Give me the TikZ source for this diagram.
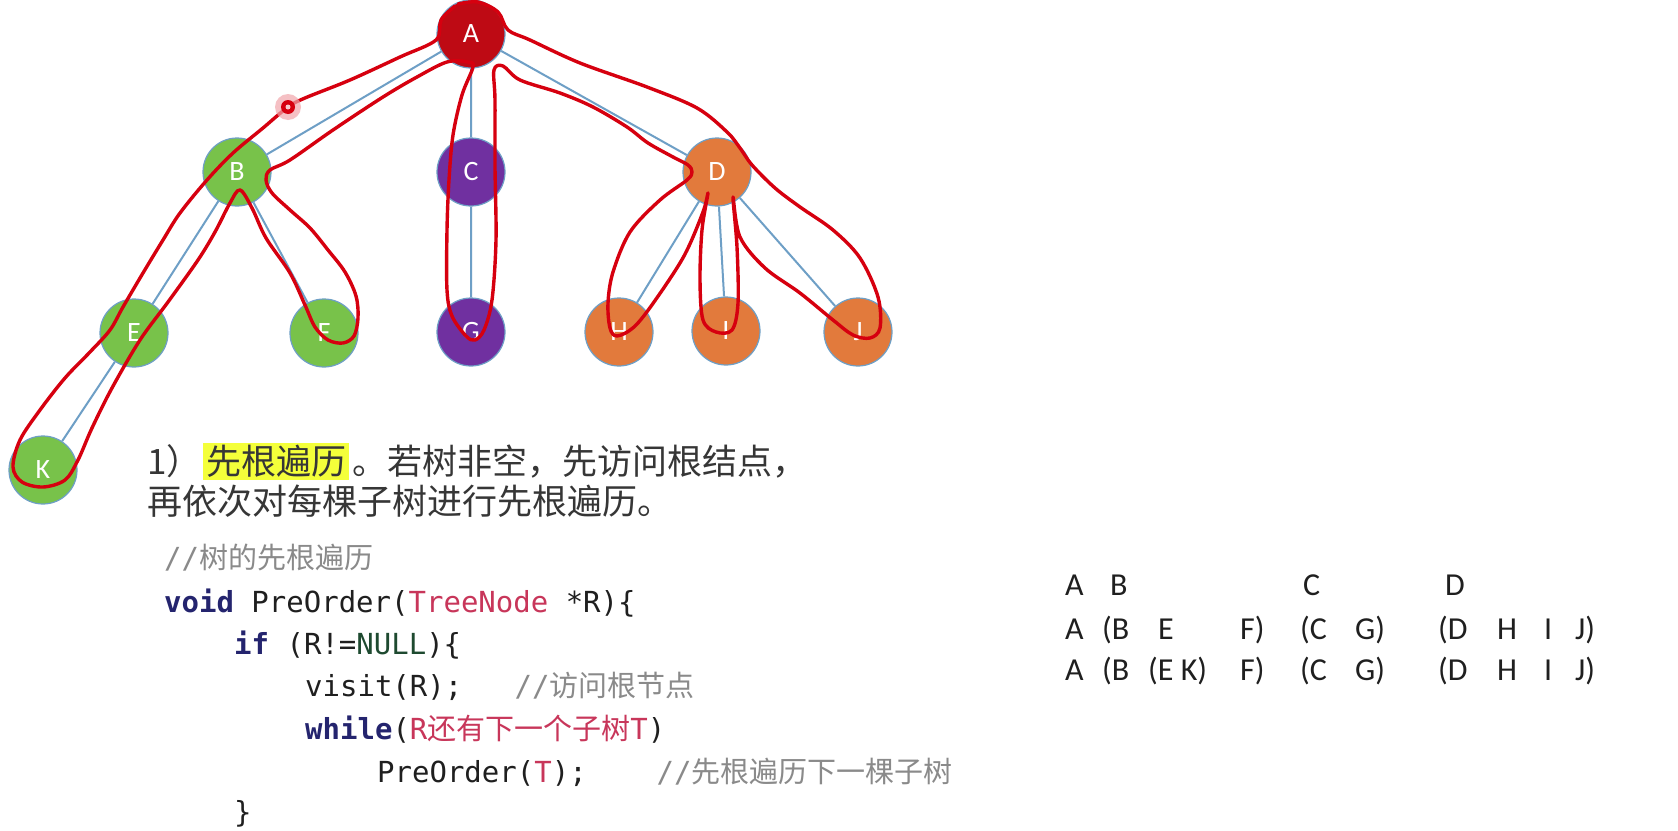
\documentclass[tikz,border=0pt]{standalone}
\usepackage{fontspec}
\setmainfont{Carlito}
\newfontfamily\cjk{Noto Sans CJK SC}
\newfontfamily\codef{DejaVu Sans Mono}
\newcommand\setfs[1]{\fontsize{#1}{#1}\selectfont}
\definecolor{nred}{HTML}{BE0A14}
\definecolor{ngreen}{HTML}{78C24A}
\definecolor{npurple}{HTML}{7030A0}
\definecolor{norange}{HTML}{E27A3C}
\definecolor{edgeblue}{HTML}{6E9FC6}
\definecolor{pen}{HTML}{D6000F}
\definecolor{txt}{HTML}{363636}
\definecolor{kw}{HTML}{24246E}
\definecolor{typ}{HTML}{C8365A}
\definecolor{cmt}{HTML}{8A8A8A}
\definecolor{nullc}{HTML}{1E4A30}
\definecolor{hly}{HTML}{F4FF3A}
\begin{document}
\begin{tikzpicture}[x=1pt,y=-1pt,
  tn/.style={circle, minimum size=68pt, inner sep=0pt, draw=edgeblue, line width=1.2pt, text=white, font=\setfs{28}},
  tedge/.style={draw=edgeblue, line width=2pt},
  penline/.style={draw=pen, line width=3.4pt, line cap=round, line join=round},
  para/.style={anchor=base west, inner sep=0pt, text=txt, font=\cjk\setfs{35}},
  hl/.style={para, fill=hly, inner xsep=3pt, text height=31pt, text depth=6pt},
  codeline/.style={anchor=base west, inner sep=0pt, text=black!88, font=\codef\setfs{29}},
  seq/.style={anchor=base west, inner sep=0pt, text=black!88, font=\setfs{32}}
]
\useasboundingbox (0,0) rectangle (1678,830);
\fill[white] (0,0) rectangle (1678,830);

% tree node positions (invisible anchors first, for edges)
\node[tn, draw=none] (A) at (471,34)  {};
\node[tn, draw=none] (B) at (237,172) {};
\node[tn, draw=none] (C) at (471,172) {};
\node[tn, draw=none] (D) at (717,172) {};
\node[tn, draw=none] (E) at (134,333) {};
\node[tn, draw=none] (F) at (324,333) {};
\node[tn, draw=none] (G) at (471,332) {};
\node[tn, draw=none] (H) at (619,332) {};
\node[tn, draw=none] (I) at (726,331) {};
\node[tn, draw=none] (J) at (858,332) {};
\node[tn, draw=none] (K) at (43,470)  {};

\path[tedge] (A) -- (B) (A) -- (C) (A) -- (D)
  (B) -- (E) (B) -- (F) (E) -- (K) (C) -- (G)
  (D) -- (H) (D) -- (I) (D) -- (J);

\node[tn, fill=nred]    (nA) at (A) {A};
\node[tn, fill=ngreen]  (nB) at (B) {B};
\node[tn, fill=npurple] (nC) at (C) {C};
\node[tn, fill=norange] (nD) at (D) {D};
\node[tn, fill=ngreen]  (nE) at (E) {E};
\node[tn, fill=ngreen]  (nF) at (F) {F};
\node[tn, fill=npurple] (nG) at (G) {G};
\node[tn, fill=norange] (nH) at (H) {H};
\node[tn, fill=norange] (nI) at (I) {I};
\node[tn, fill=norange] (nJ) at (J) {J};
\node[tn, fill=ngreen]  (nK) at (K) {K};

% hand-drawn traversal path
\draw[penline] plot[smooth, tension=0.55] coordinates {
(455,6) (441,20) (436,40) (400,57) (350,80) (305,98) (288,107) (263,128) (233,153)
(207,180) (180,213) (163,240) (143,273) (123,307) (110,330) (90,352) (65,378) (40,410)
(20,440) (13,467) (22,482) (43,487) (65,480) (78,460) (92,428) (112,388) (140,340)
(168,302) (198,260) (215,232) (230,203) (240,190) (252,208) (266,238) (290,273) (305,305)
(315,327) (328,340) (343,343) (354,336) (358,318) (356,296) (345,272) (328,250) (310,228)
(290,210) (272,193) (266,180) (270,170) (290,160) (333,130) (383,97) (417,77) (447,62)
(468,62) (473,67) (462,95) (453,135) (449,180) (447,230) (447,290) (452,316) (466,336)
(475,340) (484,330) (492,300) (496,240) (495,167) (495,100) (494,70) (503,66) (520,80)
(560,93) (593,107) (627,127) (648,143) (673,157) (688,165) (692,172) (687,180) (660,200)
(630,232) (613,272) (608,303) (610,328) (617,336) (634,327) (654,302) (684,256) (703,212)
(708,193) (702,230) (700,280) (703,320) (716,332) (732,330) (738,303) (737,247) (733,197)
(740,237) (765,268) (800,293) (833,320) (853,335) (870,338) (880,328) (878,297) (860,258)
(833,230) (800,207) (775,188) (752,165) (740,148) (727,132) (697,108) (647,87) (580,63)
(530,40) (508,30) (498,12) (478,2) (458,4)};

% laser pointer dot
\node[circle, fill=pen!35!white, opacity=0.7, minimum size=26pt, inner sep=0pt] (glow) at (288,107) {};
\node[circle, fill=pen, minimum size=14pt, inner sep=0pt] (dot) at (glow) {};
\node[circle, fill=white!80!pen, minimum size=5pt, inner sep=0pt] (dotc) at (dot) {};

% paragraph
\node[para] (p1) at (147,474) {1）};
\node[hl] (p2) at ([xshift=1pt]p1.base east) {先根遍历};
\node[para] (p3) at ([xshift=3pt]p2.base east) {。若树非空，先访问根结点，};
\node[para] (p4) at (147,514) {再依次对每棵子树进行先根遍历。};

% code
\node[codeline, text=cmt] (c0) at (164,568) {//{\cjk 树的先根遍历}};
\node[codeline] (c1) at (164,612) {{\color{kw}\bfseries void} PreOrder({\color{typ}TreeNode} *R)\{};
\node[codeline] (c2) at (234,654) {{\color{kw}\bfseries if} (R!={\color{nullc}NULL})\{};
\node[codeline] (c3) at (305,696) {visit(R);~~~{\color{cmt}//\cjk 访问根节点}};
\node[codeline] (c4) at (305,739) {{\color{kw}\bfseries while}({\color{typ}R{\cjk 还有下一个子树}T})};
\node[codeline] (c5) at (377,782) {PreOrder({\color{typ}T});~~~~{\color{cmt}//\cjk 先根遍历下一棵子树}};
\node[codeline] (c6) at (234,822) {\}};

% sequences
\foreach \t/\x [count=\i] in {A/1065, B/1110, C/1303, D/1445}
  \node[seq] (ra\i) at (\x,595) {\t};
\foreach \t/\x [count=\i] in {A/1065, {(B}/1102, E/1158, {F)}/1240, {(C}/1300, {G)}/1355, {(D}/1438, H/1497, I/1544, {J)}/1575}
  \node[seq] (rb\i) at (\x,639) {\t};
\foreach \t/\x [count=\i] in {A/1065, {(B}/1102, {(E K)}/1148, {F)}/1240, {(C}/1300, {G)}/1355, {(D}/1438, H/1497, I/1544, {J)}/1575}
  \node[seq] (rc\i) at (\x,680) {\t};
\end{tikzpicture}
\end{document}
